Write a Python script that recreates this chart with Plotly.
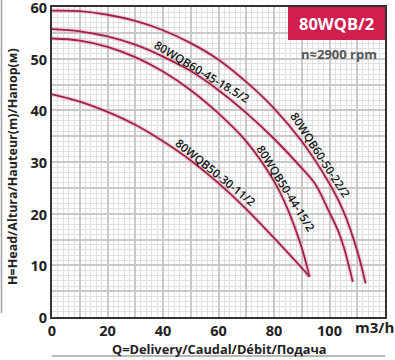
import plotly.graph_objects as go

# ---- data ----
q_22 = [0, 10, 20, 30, 40, 50, 60, 70, 80, 90, 100, 105, 110, 113]
h_22 = [59.3, 59.2, 58.5, 57.3, 55.5, 53.0, 49.8, 45.5, 40.4, 34.0, 25.8, 20.5, 12.8, 6.5]

q_185 = [0, 10, 20, 30, 40, 50, 60, 70, 80, 90, 95, 100, 103, 105, 108.4]
h_185 = [55.7, 55.3, 54.3, 52.7, 50.4, 47.6, 43.9, 39.5, 34.5, 28.8, 25.6, 20.2, 16.8, 13.8, 6.8]

q_15 = [0, 10, 20, 30, 40, 50, 60, 70, 80, 85, 90, 92.8]
h_15 = [53.9, 53.5, 52.3, 50.3, 47.5, 43.9, 39.4, 34.0, 26.3, 20.8, 13.4, 7.8]

q_11 = [0, 10, 20, 30, 40, 50, 60, 70, 80, 90, 92.8]
h_11 = [43.1, 41.7, 39.7, 37.2, 34.0, 30.3, 25.9, 20.9, 15.3, 9.5, 7.8]

curve_names = ["80WQB60-50-22/2", "80WQB60-45-18.5/2", "80WQB50-44-15/2", "80WQB50-30-11/2"]
# label anchor (q, h) and angle for each curve label
label_q = [96.6, 54.1, 84.3, 59.0]
label_h = [31.4, 47.6, 24.8, 27.9]
label_angle = [57, 31, 58, 39]

x_tickvals = [0, 10, 20, 30, 40, 50, 60, 70, 80, 90, 100, 110, 120]
x_ticktext = ["0", "", "20", "", "40", "", "60", "", "80", "", "100", "", ""]
y_tickvals = [0, 5, 10, 15, 20, 25, 30, 35, 40, 45, 50, 55, 60]
y_ticktext = ["0", "", "10", "", "20", "", "30", "", "40", "", "50", "", "60"]

title_box = "80WQB/2"
speed_text = "n≈2900 rpm"
x_title = "Q=Delivery/Caudal/Débit/Подача"
y_title = "H=Head/Altura/Hauteur(m)/Напор(м)"
x_unit = "m3/h"

# ---- figure ----
LINE = "#9e2249"
HALO = "rgba(232,120,150,0.30)"
FONT = "Open Sans"
L, R, T, B = 52, 385, 7, 317   # plot area in pixels


def px(x):
    return (x - L) / (R - L)


def py(y):
    return (B - y) / (B - T)


fig = go.Figure()
series = [(q_22, h_22), (q_185, h_185), (q_15, h_15), (q_11, h_11)]
for (qs, hs), name in zip(series, curve_names):
    fig.add_trace(go.Scatter(x=qs, y=hs, mode="lines", line=dict(color=HALO, width=4.5, shape="spline"),
                             hoverinfo="skip", showlegend=False))
    fig.add_trace(go.Scatter(x=qs, y=hs, mode="lines", name=name,
                             line=dict(color=LINE, width=1.8, shape="spline"), showlegend=False))

for name, lq, lh, ang in zip(curve_names, label_q, label_h, label_angle):
    fig.add_annotation(x=lq, y=lh, text=name, showarrow=False, textangle=ang,
                       xanchor="center", yanchor="middle",
                       font=dict(family=FONT, size=11.5, color="#151515", weight=600))

axis_common = dict(showgrid=True, gridcolor="#c9c9c9", gridwidth=1.6,
                   showline=True, linecolor="#333333", linewidth=2, mirror=True,
                   ticks="", zeroline=False, automargin=False, ticklabeloverflow="allow")
fig.update_xaxes(range=[0, 120], tickvals=x_tickvals, ticktext=x_ticktext,
                 minor=dict(dtick=2, showgrid=True, gridcolor="#e0e0e0", gridwidth=1),
                 tickfont=dict(family=FONT, size=14.5, color="#222222", weight="bold"),
                 **axis_common)
fig.update_yaxes(range=[0, 60], tickvals=y_tickvals, ticktext=y_ticktext,
                 minor=dict(dtick=1, showgrid=True, gridcolor="#e0e0e0", gridwidth=1),
                 tickfont=dict(family=FONT, size=14.5, color="#222222", weight="bold"),
                 ticklabelshift=1,
                 **axis_common)

# title box
fig.add_shape(type="rect", xref="paper", yref="paper", x0=px(288), x1=1.0,
              y0=py(40), y1=1.0, fillcolor="#d01e4f", line=dict(width=0), layer="above")
fig.add_annotation(xref="paper", yref="paper", x=px(336.5), y=py(24),
                   xanchor="center", yanchor="middle",
                   text=title_box, showarrow=False,
                   font=dict(family=FONT, size=16.5, color="white", weight="bold"))
fig.add_annotation(xref="paper", yref="paper", x=px(379), y=py(54),
                   xanchor="right", yanchor="middle", text=speed_text, showarrow=False,
                   font=dict(family=FONT, size=13, color="#555555", weight="bold"))

# axis titles
fig.add_annotation(xref="paper", yref="paper", x=px(219), y=py(348.5),
                   xanchor="center", yanchor="middle",
                   text=x_title, showarrow=False,
                   font=dict(family=FONT, size=12.8, color="#222222", weight="bold"))
fig.add_annotation(xref="paper", yref="paper", x=px(12), y=py(167),
                   xanchor="center", yanchor="middle",
                   text=y_title, showarrow=False, textangle=-90,
                   font=dict(family=FONT, size=12.5, color="#222222", weight="bold"))
fig.add_annotation(xref="paper", yref="paper", x=px(374), y=py(327),
                   xanchor="center", yanchor="middle",
                   text=x_unit, showarrow=False,
                   font=dict(family=FONT, size=15, color="#222222", weight="bold"))

# decorative frame lines
fig.add_shape(type="line", xref="paper", yref="paper", x0=px(1.5), x1=px(1.5),
              y0=py(313), y1=py(0), line=dict(color="#a0a0a0", width=1.5))
fig.add_shape(type="line", xref="paper", yref="paper", x0=0, x1=1.0,
              y0=py(356), y1=py(356), line=dict(color="#a0a0a0", width=1.5))

fig.update_layout(width=395, height=360, margin=dict(l=L, r=395 - R, t=T, b=360 - B),
                  plot_bgcolor="white", paper_bgcolor="white", showlegend=False)

fig.write_html("out.html", config={"displayModeBar": False}, post_script=(
    "document.documentElement.style.margin='0';document.body.style.margin='0';"
    "document.documentElement.style.overflow='hidden';document.body.style.overflow='hidden';"
))
